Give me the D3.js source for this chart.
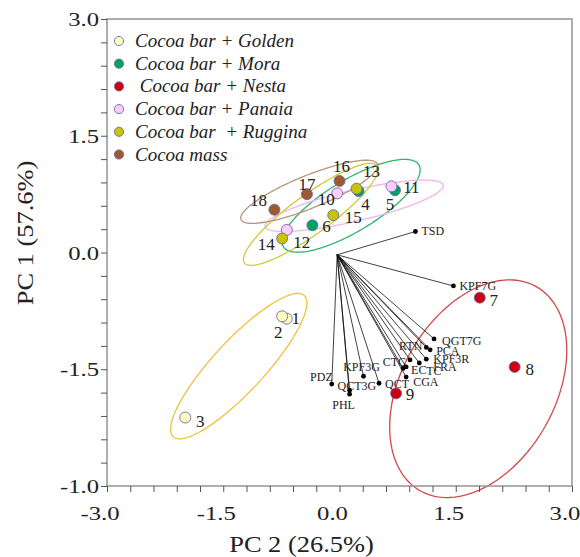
<!DOCTYPE html>
<html>
<head>
<meta charset="UTF-8">
<title>PCA biplot</title>
<script src="https://d3js.org/d3.v7.min.js"></script>
<style>
  body { margin: 0; background: #fff; }
  text { font-family: "Liberation Serif", "Times New Roman", serif; fill: #222; }
</style>
</head>
<body>
<div id="chart"></div>
<script>
// ---- data ----
const groups = ["Cocoa bar + Golden", "Cocoa bar + Mora", " Cocoa bar + Nesta",
                "Cocoa bar + Panaia", "Cocoa bar  + Ruggina", "Cocoa mass"];

// samples: id, group index, PC2 (x), PC1 (y)
const sampleIds = [1, 2, 3, 4, 5, 6, 7, 8, 9, 10, 11, 12, 13, 14, 15, 16, 17, 18];
const sampleGroup = [0, 0, 0, 1, 1, 1, 2, 2, 2, 3, 3, 3, 4, 4, 4, 5, 5, 5];
const sampleX = [-0.68, -0.74, -1.99, 0.245, 0.716, -0.35, 1.81, 2.26, 0.73,
                 -0.03, 0.67, -0.68, 0.22, -0.74, -0.08, 0.0, -0.42, -0.84];
const sampleY = [-0.85, -0.82, -2.12, 0.79, 0.80, 0.35, -0.58, -1.47, -1.81,
                 0.76, 0.85, 0.29, 0.82, 0.18, 0.48, 0.92, 0.75, 0.55];

// loadings
const loadNames = ["TSD", "KPF7G", "QGT7G", "PCA", "RTN", "KPF3R", "FRA", "CTC",
                   "EC", "TC", "CGA", "QCT", "KPF3G", "QCT3G", "PHL", "PDZ"];
const loadX = [0.98, 1.47, 1.22, 1.17, 1.12, 1.12, 1.03, 0.91, 0.82, 0.86, 0.86, 0.51, 0.31, 0.13, 0.13, -0.10];
const loadY = [0.27, -0.43, -1.11, -1.25, -1.22, -1.37, -1.42, -1.38, -1.49, -1.47, -1.60, -1.68, -1.59, -1.77, -1.82, -1.69];
const loadOrigin = [-0.03, -0.03];

// confidence ellipses per group: centre x, centre y, semi axes, angle (deg)
const ellCx = [-1.30, 0.15, 1.79, 0.19, -0.37, -0.39];
const ellCy = [-1.46, 0.60, -1.75, 0.60, 0.49, 0.78];
const ellA = [1.24, 1.02, 1.51, 1.18, 1.06, 0.95];
const ellB = [0.33, 0.33, 0.99, 0.20, 0.25, 0.21];
const ellAngle = [47, 31, 60, 13, 36, 22];

const xTicks = [-3, -1.5, 0, 1.5, 3];
const xTickLabels = ["-3.0", "-1.5", "0.0", "1.5", "3.0"];
const yTicks = [3, 1.5, 0, -1.5, -3];
const yTickLabels = ["3.0", "1.5", "0.0", "-1.5", "-1.0"];

// ---- styles ----
const fillColors = ["#ffffc0", "#00a462", "#cc0010", "#ffccff", "#c8c400", "#a0582e"];
const ellColors = ["#f0c040", "#30b468", "#d04848", "#f0b4f0", "#cccc30", "#b4967a"];

const sampleLabelOffset = {
  1: [9, 5], 2: [-4, 22], 3: [15, 9], 4: [7, 19], 5: [-5, 20], 6: [14, 7],
  7: [14, 8], 8: [15, 8], 9: [14, 7], 10: [-11, 12], 11: [20, 7], 12: [15, 18],
  13: [15, -12], 14: [-16, 12], 15: [20, 8], 16: [2, -9], 17: [0, -4], 18: [-16, -4]
};
const loadLabelOffset = {
  TSD: [6, 4, "start"], KPF7G: [6, 4, "start"], QGT7G: [8, 6, "start"],
  PCA: [6, 5, "start"], RTN: [-4, 3, "end"], KPF3R: [7, 4, "start"],
  FRA: [14, 8, "start"], CTC: [-4, 6, "end"], EC: [8, 6, "start"],
  TC: [20, 8, "start"], CGA: [7, 9, "start"], QCT: [6, 5, "start"],
  KPF3G: [-2, -5, "middle"], QCT3G: [-12, 0, "start"], PHL: [-6, 15, "middle"],
  PDZ: [1, -3, "end"]
};

const W = 580, H = 557;
const svg = d3.select("#chart").append("svg").attr("width", W).attr("height", H);

const x = d3.scaleLinear().domain([-3, 3]).range([107, 572]);
const y = d3.scaleLinear().domain([-3, 3]).range([486, 19]);

// ellipses
const lineGen = d3.line().x(d => x(d[0])).y(d => y(d[1])).curve(d3.curveLinearClosed);
groups.forEach((g, i) => {
  const th = ellAngle[i] * Math.PI / 180;
  const pts = d3.range(0, 2 * Math.PI, Math.PI / 90).map(t => [
    ellCx[i] + ellA[i] * Math.cos(t) * Math.cos(th) - ellB[i] * Math.sin(t) * Math.sin(th),
    ellCy[i] + ellA[i] * Math.cos(t) * Math.sin(th) + ellB[i] * Math.sin(t) * Math.cos(th)
  ]);
  svg.append("path").attr("d", lineGen(pts))
     .attr("fill", "none").attr("stroke", ellColors[i]).attr("stroke-width", 1.3);
});

// frame + ticks
const axisColor = "#9a9a9a";
svg.append("rect")
   .attr("x", x(-3)).attr("y", y(3))
   .attr("width", x(3) - x(-3)).attr("height", y(-3) - y(3))
   .attr("fill", "none").attr("stroke", axisColor).attr("stroke-width", 1.6);

const minor = d3.range(21).map(i => -3 + i * 0.3);
const gx = svg.append("g").attr("transform", `translate(0,${y(-3)})`)
  .call(d3.axisBottom(x).tickValues(minor).tickSize(6).tickSizeOuter(0).tickFormat(""));
const gy = svg.append("g").attr("transform", `translate(${x(-3)},0)`)
  .call(d3.axisLeft(y).tickValues(minor).tickSize(6).tickSizeOuter(0).tickFormat(""));
[gx, gy].forEach(g => {
  g.select(".domain").remove();
  g.selectAll(".tick line").attr("stroke", "#555").attr("stroke-width", 1);
});

// tick labels
xTicks.forEach((v, i) => {
  svg.append("text")
     .attr("transform", `translate(${x(v) - 7},${y(-3) + 34}) scale(1.3,1)`)
     .attr("text-anchor", "middle").style("font-size", "19px")
     .text(xTickLabels[i]);
});
yTicks.forEach((v, i) => {
  svg.append("text")
     .attr("transform", `translate(${x(-3) - 8},${y(v) + 7}) scale(1.3,1)`)
     .attr("text-anchor", "end").style("font-size", "19px")
     .text(yTickLabels[i]);
});

// axis titles
svg.append("text")
   .attr("transform", `translate(${(x(-3) + x(3)) / 2 - 38},552) scale(1.15,1)`)
   .attr("text-anchor", "middle").style("font-size", "23px")
   .text("PC 2 (26.5%)");
svg.append("text")
   .attr("transform", `translate(33,233) rotate(-90) scale(1.15,1)`)
   .attr("text-anchor", "middle").style("font-size", "23px")
   .text("PC 1 (57.6%)");

// loadings
loadNames.forEach((n, i) => {
  svg.append("line")
     .attr("x1", x(loadOrigin[0])).attr("y1", y(loadOrigin[1]))
     .attr("x2", x(loadX[i])).attr("y2", y(loadY[i]))
     .attr("stroke", "#111").attr("stroke-width", 0.8);
});
loadNames.forEach((n, i) => {
  const o = loadLabelOffset[n];
  svg.append("circle").attr("cx", x(loadX[i])).attr("cy", y(loadY[i]))
     .attr("r", 2.4).attr("fill", "#000");
  svg.append("text").attr("x", x(loadX[i]) + o[0]).attr("y", y(loadY[i]) + o[1])
     .attr("text-anchor", o[2]).style("font-size", "12px").text(n);
});

// samples
sampleIds.forEach((id, i) => {
  svg.append("circle")
     .attr("cx", x(sampleX[i])).attr("cy", y(sampleY[i])).attr("r", 5.5)
     .attr("fill", fillColors[sampleGroup[i]])
     .attr("stroke", "#6a6aa8").attr("stroke-width", 0.9);
});
sampleIds.forEach((id, i) => {
  const o = sampleLabelOffset[id];
  svg.append("text")
     .attr("x", x(sampleX[i]) + o[0]).attr("y", y(sampleY[i]) + o[1])
     .attr("text-anchor", "middle").style("font-size", "17px")
     .text(id);
});

// legend
const legend = svg.append("g").attr("transform", "translate(119,41)");
groups.forEach((g, i) => {
  const row = legend.append("g").attr("transform", `translate(0,${i * 22.7})`);
  row.append("circle").attr("r", 4.6)
     .attr("fill", fillColors[i]).attr("stroke", "#6a6aa8").attr("stroke-width", 0.9);
  row.append("text").attr("x", 16).attr("y", 6)
     .attr("xml:space", "preserve").style("white-space", "pre")
     .style("font-size", "19px").style("font-style", "italic")
     .text(g);
});
</script>
</body>
</html>
